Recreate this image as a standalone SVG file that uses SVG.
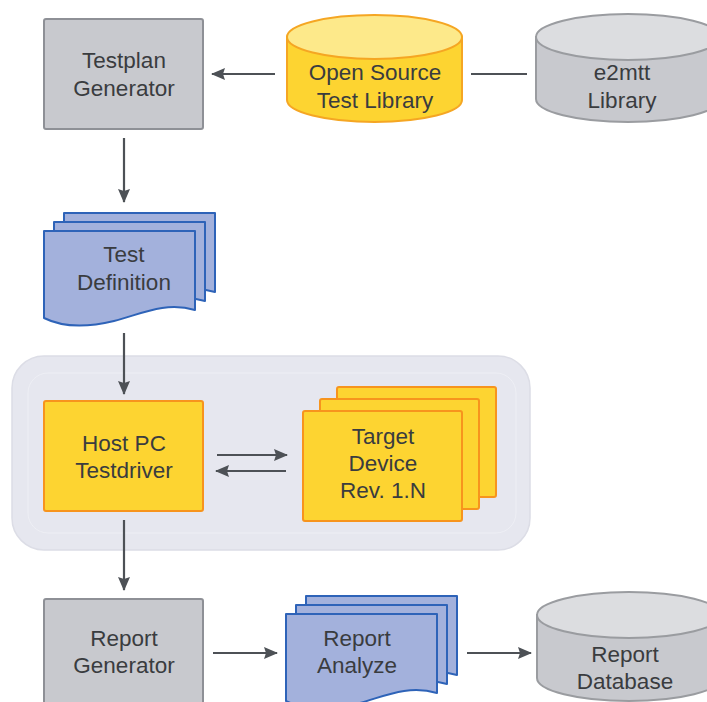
<svg xmlns="http://www.w3.org/2000/svg" width="707" height="702" viewBox="0 0 707 702">
<style>
text{font-family:"Liberation Sans",Arial,sans-serif;font-size:22.5px;fill:#3a3c3f;text-anchor:middle}
.gray{fill:#c8c9ce;stroke:#8e9096;stroke-width:2}
.yel{fill:#fdd431;stroke:#f7941d;stroke-width:2}
.doc{fill:#a3b1dc;stroke:#2e63b8;stroke-width:2;stroke-linejoin:round}
.cylg{fill:#c8c9ce;stroke:#9a9ca0;stroke-width:2}
.cylgt{fill:#dcdde0;stroke:#9a9ca0;stroke-width:2}
.cyly{fill:#fdd431;stroke:#f5a623;stroke-width:2}
.cylyt{fill:#fde98a;stroke:#f5a623;stroke-width:2}
.ln{stroke:#4d5156;stroke-width:2.2;fill:none}
</style>
<defs>
<marker id="ah" markerWidth="14" markerHeight="12" refX="13" refY="6" orient="auto" markerUnits="userSpaceOnUse" viewBox="0 0 14 12">
<path d="M0,0 L14,6 L0,12 L2,6 Z" fill="#4d5156"/>
</marker>
<path id="docshape" d="M0,0 H151 V79 C120,70 95,84 70,90 C45,96 20,97 0,87 Z"/>
</defs>
<rect width="707" height="702" fill="#ffffff"/>

<g id="group">
<rect x="12" y="356" width="518" height="194" rx="32" fill="#e6e7ef" stroke="#dcdde6" stroke-width="1.5"/>
<rect x="28" y="373" width="488" height="160" rx="20" fill="none" stroke="#eeeff5" stroke-width="1"/>
</g>

<g id="connectors">
<line class="ln" x1="275" y1="74" x2="212" y2="74" marker-end="url(#ah)"/>
<line class="ln" x1="471" y1="74" x2="527" y2="74"/>
<line class="ln" x1="124" y1="138" x2="124" y2="202" marker-end="url(#ah)"/>
<line class="ln" x1="124" y1="333" x2="124" y2="394" marker-end="url(#ah)"/>
<line class="ln" x1="217" y1="455" x2="287" y2="455" marker-end="url(#ah)"/>
<line class="ln" x1="286" y1="471" x2="216" y2="471" marker-end="url(#ah)"/>
<line class="ln" x1="124" y1="520" x2="124" y2="590" marker-end="url(#ah)"/>
<line class="ln" x1="213" y1="653" x2="277" y2="653" marker-end="url(#ah)"/>
<line class="ln" x1="467" y1="653" x2="531" y2="653" marker-end="url(#ah)"/>
</g>

<g id="testplan-generator">
<rect class="gray" x="44" y="19" width="159" height="110" rx="2"/>
<text x="124" y="68">Testplan</text>
<text x="124" y="96">Generator</text>
</g>

<g id="open-source-test-library">
<path class="cyly" d="M287,37 V100 A87.5,22 0 0 0 462,100 V37 Z"/>
<ellipse class="cylyt" cx="374.5" cy="37" rx="87.5" ry="22"/>
<text x="375" y="80">Open Source</text>
<text x="375" y="108">Test Library</text>
</g>

<g id="e2mtt-library">
<path class="cylg" d="M536,37 V99 A92,23 0 0 0 720,99 V37 Z"/>
<ellipse class="cylgt" cx="628" cy="37" rx="92" ry="23"/>
<text x="622" y="80">e2mtt</text>
<text x="622" y="108">Library</text>
</g>

<g id="test-definition">
<use href="#docshape" class="doc" x="64" y="213"/>
<use href="#docshape" class="doc" x="54" y="222"/>
<use href="#docshape" class="doc" x="44" y="231"/>
<text x="124" y="262">Test</text>
<text x="124" y="290">Definition</text>
</g>

<g id="host-pc-testdriver">
<rect class="yel" x="44" y="401" width="159" height="110" rx="2"/>
<text x="124" y="451">Host PC</text>
<text x="124" y="478">Testdriver</text>
</g>

<g id="target-device">
<rect class="yel" x="337" y="387" width="159" height="110" rx="2"/>
<rect class="yel" x="320" y="399" width="159" height="110" rx="2"/>
<rect class="yel" x="303" y="411" width="159" height="110" rx="2"/>
<text x="383" y="444">Target</text>
<text x="383" y="471">Device</text>
<text x="383" y="498">Rev. 1.N</text>
</g>

<g id="report-generator">
<rect class="gray" x="44" y="599" width="159" height="115" rx="2"/>
<text x="124" y="646">Report</text>
<text x="124" y="673">Generator</text>
</g>

<g id="report-analyze">
<use href="#docshape" class="doc" x="306" y="596"/>
<use href="#docshape" class="doc" x="296" y="605"/>
<use href="#docshape" class="doc" x="286" y="614"/>
<text x="357" y="646">Report</text>
<text x="357" y="673">Analyze</text>
</g>

<g id="report-database">
<path class="cylg" d="M537,615 V678 A92,23 0 0 0 721,678 V615 Z"/>
<ellipse class="cylgt" cx="629" cy="615" rx="92" ry="23"/>
<text x="625" y="662">Report</text>
<text x="625" y="689">Database</text>
</g>
</svg>
